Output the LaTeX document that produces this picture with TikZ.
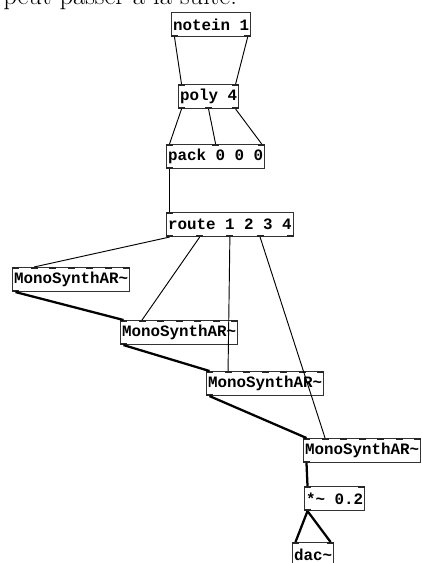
\documentclass[tikz,border=0pt]{standalone}
\usepackage{fontspec}
\newfontfamily\pdfont{Liberation Mono}
\usetikzlibrary{calc}

% one Pd object box: frame plus text
\tikzset{
  obj/.style={draw=black!80, line width=0.8pt, inner xsep=1.1pt, inner ysep=0pt,
    minimum height=18pt, anchor=north west,
    font=\pdfont\bfseries\fontsize{11.9}{12}\selectfont},
  iolet/.style={line width=1.7pt, black!85},
  ctl/.style={line width=0.7pt},
  sig/.style={line width=1.7pt},
}

% inlets (top) and outlets (bottom) of a box: #1 name, #2 inlets, #3 outlets
\newcommand\pdio[3]{%
  \path ($(#1.north west)+(3.5,0)$) coordinate (#1-tl)
        ($(#1.north east)+(-3.5,0)$) coordinate (#1-tr)
        ($(#1.south west)+(3.5,0)$) coordinate (#1-bl)
        ($(#1.south east)+(-3.5,0)$) coordinate (#1-br);
  \ifnum#2>0
  \foreach \k in {1,...,#2}{
    \ifnum#2=1 \def\f{0}\else\pgfmathsetmacro\f{(\k-1)/(#2-1)}\fi
    \coordinate (#1-i\k) at ($(#1-tl)!\f!(#1-tr)$);
    \draw[iolet] ([xshift=-2.6pt,yshift=-0.7pt]#1-i\k) -- ([xshift=2.6pt,yshift=-0.7pt]#1-i\k);
  }\fi
  \ifnum#3>0
  \foreach \k in {1,...,#3}{
    \ifnum#3=1 \def\f{0}\else\pgfmathsetmacro\f{(\k-1)/(#3-1)}\fi
    \coordinate (#1-o\k) at ($(#1-bl)!\f!(#1-br)$);
    \draw[iolet] ([xshift=-2.6pt,yshift=0.7pt]#1-o\k) -- ([xshift=2.6pt,yshift=0.7pt]#1-o\k);
  }\fi
}

\begin{document}
\begin{tikzpicture}[x=0.75pt,y=-0.75pt]
  \useasboundingbox (0,0) rectangle (421,563);
  \clip (0,0) rectangle (421,563);
  \node[anchor=base west, inner sep=0, font=\fontsize{20}{24}\selectfont] (caption) at (3,5) {peut passer à la suite.};

  % objects
  \node[obj] (notein) at (171,12) {notein 1};
  \node[obj] (poly) at (178,84) {poly 4};
  \node[obj] (pack) at (166,144) {pack 0 0 0};
  \node[obj] (route) at (166,212) {route 1 2 3 4};
  \node[obj] (synthA) at (12,267) {MonoSynthAR\textasciitilde};
  \node[obj] (synthB) at (120,320) {MonoSynthAR\textasciitilde};
  \node[obj] (synthC) at (206,371) {MonoSynthAR\textasciitilde};
  \node[obj] (synthD) at (303,438) {MonoSynthAR\textasciitilde};
  \node[obj] (gain) at (304,486) {*\textasciitilde{} 0.2};
  \node[obj] (dac) at (292,542) {dac\textasciitilde};

  \pdio{notein}{0}{2} \pdio{poly}{2}{3} \pdio{pack}{3}{1} \pdio{route}{1}{5}
  \pdio{synthA}{7}{1} \pdio{synthB}{7}{1} \pdio{synthC}{7}{1} \pdio{synthD}{7}{1}
  \pdio{gain}{2}{1} \pdio{dac}{2}{0}

  % control connections
  \draw[ctl] (notein-o1) -- (poly-i1); \draw[ctl] (notein-o2) -- (poly-i2);
  \draw[ctl] (poly-o1) -- (pack-i1); \draw[ctl] (poly-o2) -- (pack-i2); \draw[ctl] (poly-o3) -- (pack-i3);
  \draw[ctl] (pack-o1) -- (route-i1);
  \draw[ctl] (route-o1) -- (synthA-i2); \draw[ctl] (route-o2) -- (synthB-i2);
  \draw[ctl] (route-o3) -- (synthC-i2); \draw[ctl] (route-o4) -- (synthD-i2);

  % signal connections
  \draw[sig] (synthA-o1) -- (synthB-i1); \draw[sig] (synthB-o1) -- (synthC-i1);
  \draw[sig] (synthC-o1) -- (synthD-i1); \draw[sig] (synthD-o1) -- (gain-i1);
  \draw[sig] (gain-o1) -- (dac-i1); \draw[sig] (gain-o1) -- (dac-i2);
\end{tikzpicture}
\end{document}
